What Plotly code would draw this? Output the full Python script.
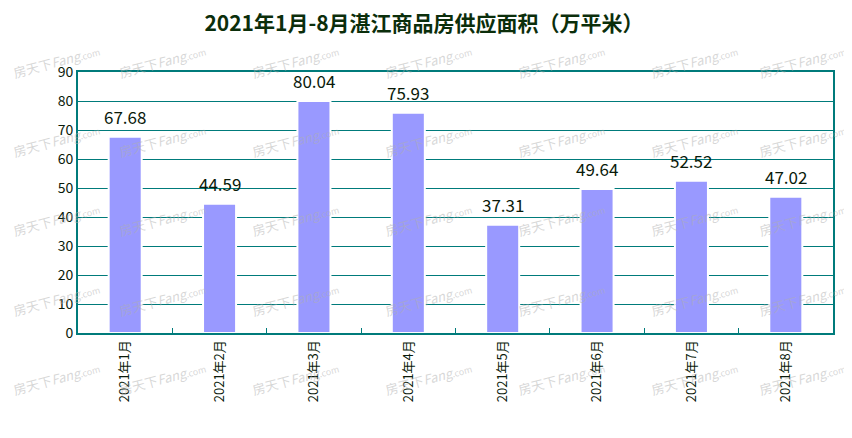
import plotly.graph_objects as go

# ---- data ----
months = ["2021年1月", "2021年2月", "2021年3月", "2021年4月",
          "2021年5月", "2021年6月", "2021年7月", "2021年8月"]
supply_area = [67.68, 44.59, 80.04, 75.93, 37.31, 49.64, 52.52, 47.02]
title_text = "2021年1月-8月湛江商品房供应面积（万平米）"

# ---- layout geometry (pixels); page body has an 8px margin ----
OFF = 8
W, H = 844, 430
L, R, T, B = 70, 19, 64, 105
PW, PH = W - L - R, H - T - B
TEAL = "#007b7b"
CJK = "Noto Sans CJK SC, Noto Sans, sans-serif"

fig = go.Figure()
fig.add_trace(go.Bar(
    x=months, y=supply_area,
    width=0.35,
    marker=dict(color="#9999ff", line=dict(color="white", width=2)),
    hoverinfo="x+y",
))

annotations = []
# value labels
for m, v in zip(months, supply_area):
    annotations.append(dict(
        x=m, y=v, xref="x", yref="y", text=f"{v:.2f}", showarrow=False,
        yanchor="bottom", yshift=6,
        font=dict(size=17, color="#0a1a0a", family=CJK),
    ))

# watermark grid (page pixels)
wm_cols = [56, 162, 295, 428, 561, 694, 802]
wm_rows = [61, 140, 219, 299, 378]
for py in wm_rows:
    for px in wm_cols:
        annotations.append(dict(
            x=(px - OFF - L) / PW, y=(H + OFF - B - py) / PH,
            xref="paper", yref="paper",
            text="房天下<i>Fang</i><span style='font-size:9px'>.com</span>",
            showarrow=False, textangle=-15,
            font=dict(size=13, color="rgba(175,175,175,0.5)", family=CJK),
            xanchor="center", yanchor="middle",
        ))

fig.update_layout(
    width=W, height=H,
    margin=dict(l=L, r=R, t=T, b=B, pad=0),
    paper_bgcolor="white", plot_bgcolor="white",
    showlegend=False,
    title=dict(text=f"<b>{title_text}</b>", x=(424 - OFF) / W, xanchor="center",
               y=1 - (24 - OFF) / H, yref="container", yanchor="middle",
               font=dict(size=21, color="#0b2e0b", family=CJK)),
    font=dict(family=CJK, color="#0a1a0a"),
    annotations=annotations,
)
fig.update_xaxes(
    type="category", tickangle=-90, automargin=False,
    tickfont=dict(size=13, color="#0a1a0a", family=CJK),
    showline=True, linecolor=TEAL, linewidth=2, mirror=True,
    ticks="inside", tickson="boundaries", ticklen=5, tickcolor=TEAL, tickwidth=1,
    showgrid=False,
)
fig.update_yaxes(
    range=[0, 90], dtick=10, automargin=False,
    tickfont=dict(size=14, color="#0a1a0a", family=CJK),
    showline=True, linecolor=TEAL, linewidth=2, mirror=True,
    showgrid=True, gridcolor=TEAL, gridwidth=1,
    ticks="", zeroline=False,
)

fig.write_html("out.html")
